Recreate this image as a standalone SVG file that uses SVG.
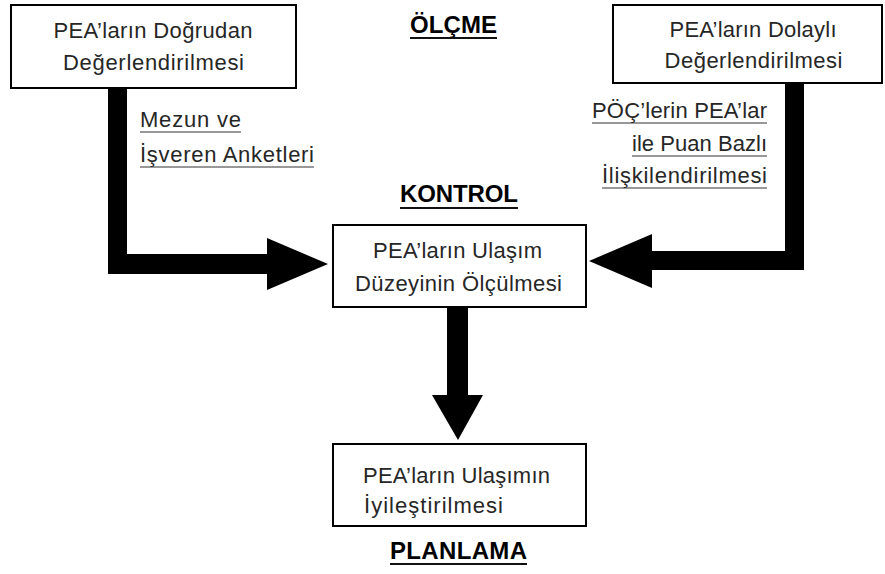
<svg xmlns="http://www.w3.org/2000/svg" width="885" height="574" viewBox="0 0 885 574">
<style>
.box{fill:#fff;stroke:#000;stroke-width:2}
.t{font-family:"Liberation Sans",Arial,sans-serif;font-size:22px;fill:#262626}
.m{text-anchor:middle}
.e{text-anchor:end}
.h{font-family:"Liberation Sans",Arial,sans-serif;font-size:24px;font-weight:bold;fill:#000}
.ul{stroke:#333;stroke-width:1.2}
.hul{stroke:#111;stroke-width:1.8}
.arrow{fill:#000}
</style>
<rect width="885" height="574" fill="#fff"/>
<g id="connectors">
<polygon class="arrow" points="108,88 127,88 127,254 267,254 267,238 328,264 267,290 267,274 108,274"/>
<polygon class="arrow" points="785,83 804,83 804,270 652,270 652,288 589,261 652,234 652,251 785,251"/>
<polygon class="arrow" points="447,307 468,307 468,395 483,395 458,440 432,395 447,395"/>
</g>
<g id="n1">
<rect class="box" x="11" y="5" width="285" height="83"/>
<text class="t m" x="153" y="38" textLength="199">PEA’ların Doğrudan</text>
<text class="t m" x="153.5" y="70" textLength="181">Değerlendirilmesi</text>
</g>
<g id="n2">
<rect class="box" x="613" y="5" width="269" height="78"/>
<text class="t m" x="753" y="37" textLength="167">PEA’ların Dolaylı</text>
<text class="t m" x="753.5" y="68" textLength="178">Değerlendirilmesi</text>
</g>
<g id="n3">
<rect class="box" x="333" y="225" width="253" height="82"/>
<text class="t m" x="457.5" y="258" textLength="169">PEA’ların Ulaşım</text>
<text class="t m" x="458.5" y="291" textLength="207">Düzeyinin Ölçülmesi</text>
</g>
<g id="n4">
<rect class="box" x="333" y="444" width="253" height="82"/>
<text class="t m" x="456.5" y="483" textLength="187">PEA’ların Ulaşımın</text>
<text class="t" x="364" y="513" textLength="139">İyileştirilmesi</text>
</g>
<g id="label-left">
<text class="t" x="140" y="127" textLength="101">Mezun ve</text>
<line class="ul" x1="140" y1="132" x2="241" y2="132"/>
<text class="t" x="140" y="162" textLength="174">İşveren Anketleri</text>
<line class="ul" x1="140" y1="167" x2="314" y2="167"/>
</g>
<g id="label-right">
<text class="t e" x="767" y="118" textLength="175">PÖÇ’lerin PEA’lar</text>
<line class="ul" x1="592" y1="123" x2="767" y2="123"/>
<text class="t e" x="767" y="151" textLength="135">ile Puan Bazlı</text>
<line class="ul" x1="632" y1="156" x2="767" y2="156"/>
<text class="t e" x="767" y="183" textLength="165">İlişkilendirilmesi</text>
<line class="ul" x1="602" y1="188" x2="767" y2="188"/>
</g>
<g id="heading-olcme">
<text class="h" x="410" y="33" textLength="87">ÖLÇME</text>
<line class="hul" x1="410" y1="38" x2="497" y2="38"/>
</g>
<g id="heading-kontrol">
<text class="h" x="400" y="202" textLength="118">KONTROL</text>
<line class="hul" x1="400" y1="208" x2="518" y2="208"/>
</g>
<g id="heading-planlama">
<text class="h" x="390" y="559" textLength="137">PLANLAMA</text>
<line class="hul" x1="390" y1="564" x2="527" y2="564"/>
</g>
</svg>
